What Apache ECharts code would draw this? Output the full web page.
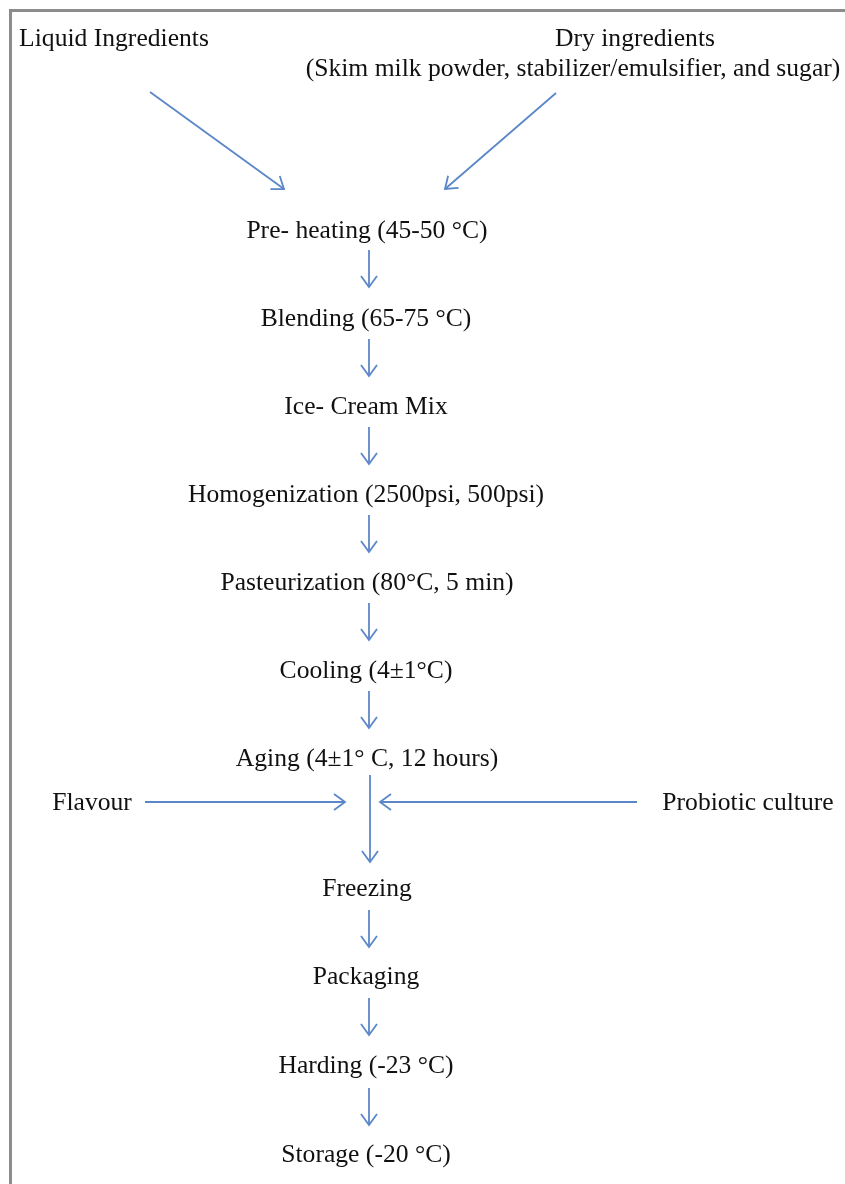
<!DOCTYPE html>
<html><head><meta charset="utf-8">
<script src="https://cdn.jsdelivr.net/npm/echarts@6/dist/echarts.min.js"></script>
<style>
html,body{margin:0;padding:0;background:#fff;}
#c{width:845px;height:1184px;}
#frame{position:absolute;left:9px;top:9px;right:0;bottom:0;border-left:3px solid #8c8c8c;border-top:3px solid #8c8c8c;pointer-events:none;}
</style>
</head><body>
<div id="c"></div><div id="frame"></div>
<script>
// Main process steps (centre column)
const stepLabels = [
  'Pre- heating (45-50 \u00B0C)',
  'Blending (65-75 \u00B0C)',
  'Ice- Cream Mix',
  'Homogenization (2500psi, 500psi)',
  'Pasteurization (80\u00B0C, 5 min)',
  'Cooling (4\u00B11\u00B0C)',
  'Aging (4\u00B11\u00B0 C, 12 hours)',
  'Freezing',
  'Packaging',
  'Harding (-23 \u00B0C)',
  'Storage (-20 \u00B0C)'
];
const stepX = [367, 366, 366, 366, 367, 366, 367, 367, 366, 366, 366];
const stepY = [231, 319, 407, 495, 583, 671, 759, 889, 977, 1066, 1155];

// Input labels
const inputLabels = [
  'Liquid Ingredients',
  'Dry ingredients',
  '(Skim milk powder, stabilizer/emulsifier, and sugar)',
  'Flavour',
  'Probiotic culture'
];
const inputX = [114, 635, 573, 92, 748];
const inputY = [39, 39, 69, 803, 803];

// Arrows: start and end points
const arrowX1 = [150, 556, 369, 369, 369, 369, 369, 369, 370, 145, 637, 369, 369, 369];
const arrowY1 = [92, 93, 250, 339, 427, 515, 603, 691, 775, 802, 802, 910, 998, 1088];
const arrowX2 = [284, 445, 369, 369, 369, 369, 369, 369, 370, 345, 380, 369, 369, 369];
const arrowY2 = [189, 189, 287, 376, 464, 552, 640, 728, 862, 802, 802, 947, 1035, 1125];

const textColor = '#111111';
const arrowColor = '#5b87c8';
const font = '25.6px "Liberation Serif", "Times New Roman", serif';

const textData = stepLabels.map((s, i) => [stepX[i], stepY[i]])
  .concat(inputLabels.map((s, i) => [inputX[i], inputY[i]]));
const allLabels = stepLabels.concat(inputLabels);
const arrowData = arrowX1.map((x, i) => [x, arrowY1[i], arrowX2[i], arrowY2[i]]);

const chart = echarts.init(document.getElementById('c'), null, {renderer: 'canvas'});
chart.setOption({
  animation: false,
  backgroundColor: 'transparent',
  grid: {left: 0, right: 0, top: 0, bottom: 0},
  xAxis: {type: 'value', min: 0, max: 845, show: false},
  yAxis: {type: 'value', min: 0, max: 1184, inverse: true, show: false},
  series: [
    {
      type: 'custom',
      data: arrowData,
      encode: {x: [0, 2], y: [1, 3]},
      renderItem: function (params, api) {
        const p1 = api.coord([api.value(0), api.value(1)]);
        const p2 = api.coord([api.value(2), api.value(3)]);
        const dx = p2[0] - p1[0], dy = p2[1] - p1[1];
        const len = Math.hypot(dx, dy);
        const ux = dx / len, uy = dy / len;
        const hl = 11, hw = 8;
        const bx = p2[0] - ux * hl, by = p2[1] - uy * hl;
        const l = [bx - uy * hw, by + ux * hw];
        const r = [bx + uy * hw, by - ux * hw];
        return {
          type: 'group',
          children: [
            {type: 'line', shape: {x1: p1[0], y1: p1[1], x2: p2[0], y2: p2[1]},
              style: {stroke: arrowColor, lineWidth: 1.8}},
            {type: 'polyline', shape: {points: [l, p2, r]},
              style: {stroke: arrowColor, lineWidth: 1.8, fill: null}}
          ]
        };
      }
    },
    {
      type: 'custom',
      data: textData,
      encode: {x: 0, y: 1},
      renderItem: function (params, api) {
        const p = api.coord([api.value(0), api.value(1)]);
        return {
          type: 'text',
          x: p[0], y: p[1],
          style: {
            text: allLabels[params.dataIndex],
            font: font,
            fill: textColor,
            align: 'center',
            verticalAlign: 'middle'
          }
        };
      }
    }
  ]
});
</script>
</body></html>
